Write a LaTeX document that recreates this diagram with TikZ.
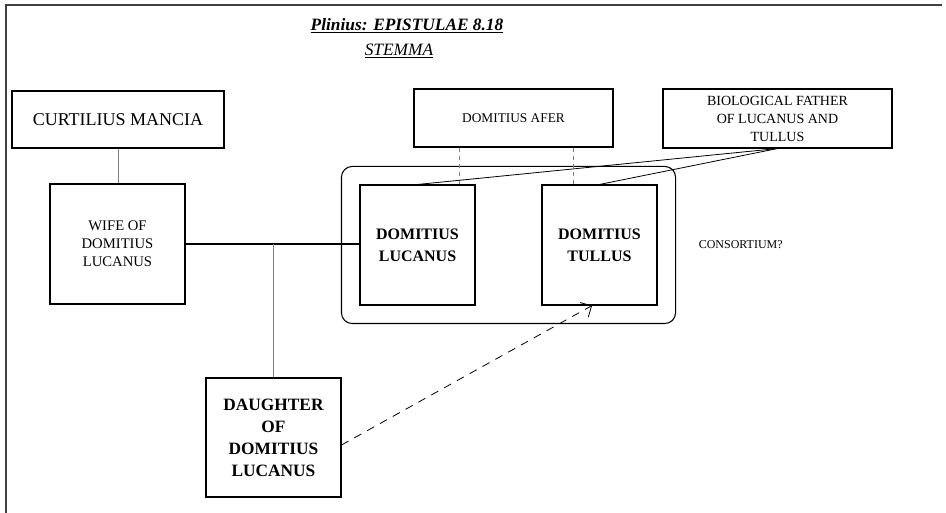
\documentclass[tikz,border=0pt]{standalone}
\usepackage{fontspec}
\setmainfont{Liberation Serif}
\usetikzlibrary{arrows.meta, positioning, fit, calc}

\begin{document}
\begin{tikzpicture}[x=0.75pt, y=-0.75pt,
                    box/.style={draw, line width=0.8pt, align=center, inner sep=0pt},
                    kin/.style={draw=gray, line width=0.6pt},
                    arr/.style={-{Straight Barb[length=2.2mm]}, dash pattern=on 6pt off 5pt, line width=0.6pt}]
        \useasboundingbox (0,0) rectangle (946,513);
        \draw[line width=0.9pt, black!75] (942,5) -- (6,5) -- (6,513);
        \node[font=\fontsize{13}{16}\selectfont\bfseries\itshape] (title) at (407,26) {\underline{Plinius: EPISTULAE 8.18}};
        \node[font=\fontsize{13}{16}\selectfont\itshape] (sub) at (399,51) {\underline{STEMMA}};
        \node[box, minimum width=159pt, minimum height=42.75pt, font=\fontsize{13.5}{16}\selectfont] (curt) at (118,119.5) {CURTILIUS MANCIA};
        \node[box, minimum width=101.25pt, minimum height=90pt, font=\fontsize{11}{13.5}\selectfont] (wife) at (117.5,244) {WIFE OF\\DOMITIUS\\LUCANUS};
        \node[box, minimum width=101.25pt, minimum height=89.25pt, font=\fontsize{13}{16.5}\selectfont\bfseries] (daughter) at (273.5,437.5) {DAUGHTER\\OF\\DOMITIUS\\LUCANUS};
        \node[box, minimum width=86.25pt, minimum height=90pt, font=\fontsize{12}{16.5}\selectfont\bfseries] (lucanus) at (417.5,245) {DOMITIUS\\LUCANUS};
        \node[box, minimum width=86.25pt, minimum height=90pt, font=\fontsize{12}{16.5}\selectfont\bfseries] (tullus) at (599.5,245) {DOMITIUS\\TULLUS};
        \node[box, minimum width=149.25pt, minimum height=43.5pt, font=\fontsize{10}{12}\selectfont] (afer) at (513.5,118) {DOMITIUS AFER};
        \node[box, minimum width=171.75pt, minimum height=44.25pt, font=\fontsize{10.5}{13.5}\selectfont] (bio) at (777.5,118.5) {BIOLOGICAL FATHER\\OF LUCANUS AND\\TULLUS};
        \node[draw, rounded corners=8pt, line width=0.8pt, inner sep=13.5pt, fit=(lucanus)(tullus)] (consort) {};
        \node[right=13.5pt of consort, font=\fontsize{9}{11}\selectfont] (consq) {CONSORTIUM?};
        % family lines
        \draw[kin] (curt.south) -- (curt.south |- wife.north);
        \draw[line width=0.8pt] (wife.east) -- (wife.east -| lucanus.west);
        \coordinate (split) at (wife.east -| daughter.north);
        \draw[kin] (split) -- (daughter.north);
        \draw[kin, dashed] ($(afer.south west)!0.23!(afer.south east)$) coordinate (a1) -- (a1 |- lucanus.north);
        \draw[kin, dashed] ($(afer.south west)!0.80!(afer.south east)$) coordinate (a2) -- (a2 |- tullus.north);
        \draw[line width=0.6pt] (bio.south) -- (lucanus.north);
        \draw[line width=0.6pt] (bio.south) -- (tullus.north);
        \draw[arr] ([yshift=-5.6pt]daughter.east) -- ([xshift=-5.6pt]tullus.south);
    \end{tikzpicture}
\end{document}
